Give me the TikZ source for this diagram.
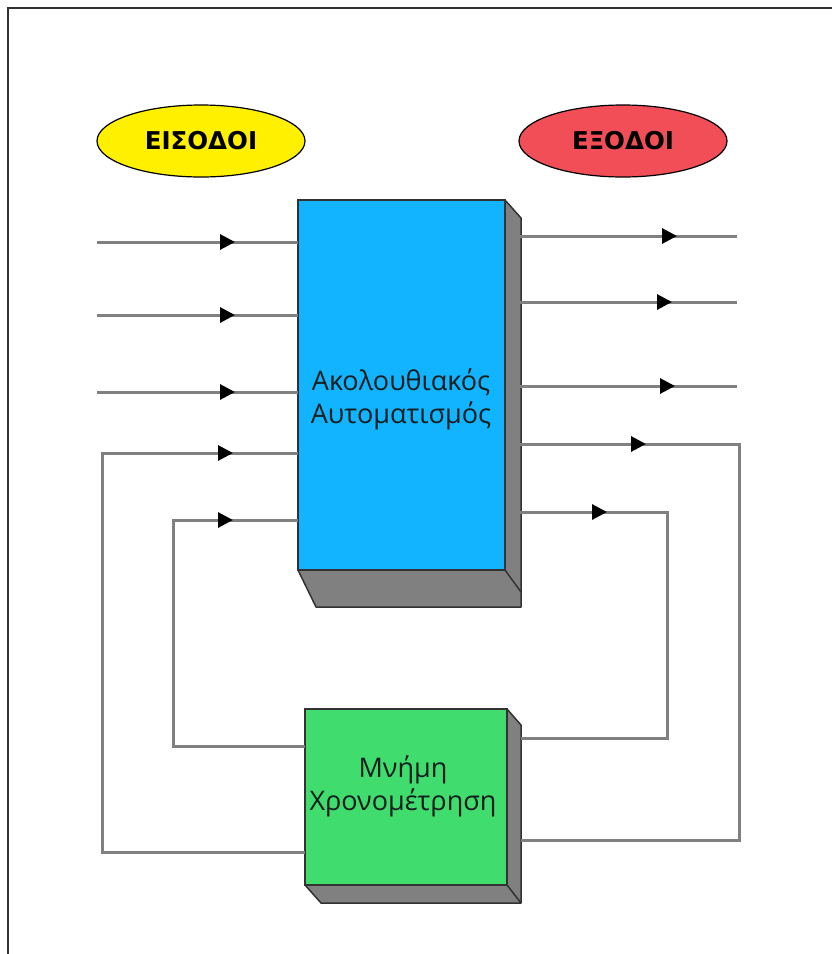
\documentclass[tikz,border=0pt]{standalone}
\usepackage{fontspec}
\setmainfont{Open Sans}
\newfontfamily\labelfont{DejaVu Sans}
\usetikzlibrary{shapes.geometric,arrows.meta,decorations.markings}

\definecolor{autoblue}{RGB}{18,180,255}
\definecolor{memgreen}{RGB}{64,220,110}
\definecolor{inyellow}{RGB}{255,240,0}
\definecolor{outred}{RGB}{242,78,88}
\definecolor{wiregray}{RGB}{128,128,128}
\definecolor{shadegray}{RGB}{128,128,128}
\definecolor{edgedark}{RGB}{50,50,50}
\definecolor{textdark}{RGB}{20,30,30}

\tikzset{
  block/.style={draw=edgedark, line width=2pt, rectangle, inner sep=0pt, outer sep=0pt},
  shade/.style={fill=shadegray, draw=edgedark, line width=1.5pt, line join=round},
  tag/.style={ellipse, draw=black, line width=1.2pt, minimum width=208pt, minimum height=72pt,
              inner sep=0pt, font=\labelfont\bfseries\fontsize{24.5}{28}\selectfont},
  wire/.style={draw=wiregray, line width=3pt},
  arrowat/.style={decoration={markings, mark=at position #1 with
                    {\arrow{Triangle[length=15pt,width=15pt,color=black]}}},
                  postaction={decorate}},
  blocktext/.style={align=center, font=\fontsize{27}{33}\selectfont, text=textdark}
}

\begin{document}
\begin{tikzpicture}[x=1pt, y=-1pt]
  \useasboundingbox (0,0) rectangle (832,954);
  \fill[white] (0,0) rectangle (832,954);

  % outer frame (top and left edges)
  \draw[edgedark, line width=2.5pt] (8,954) -- (8,8) -- (832,8);

  % labels
  \node[tag, fill=inyellow] (inputs) at (201,141) {ΕΙΣΟΔΟΙ};
  \node[tag, fill=outred] (outputs) at (623,141) {ΕΞΟΔΟΙ};

  % sequential control block with its raised side and bottom faces
  \node[block, fill=autoblue, minimum width=207pt, minimum height=370pt] (auto) at (401.5,385) {};
  \path[shade]
    (auto.north east) -- ++(16,18) -- ++(0,389) -- ++(-205,0) -- (auto.south west) -- (auto.south east) -- cycle;
  \draw[edgedark, line width=1.5pt] (auto.south east) -- ++(16,22);
  \node[block, fill=autoblue, minimum width=207pt, minimum height=370pt] at (auto.center) {};
  \node[blocktext] (autolabel) at (401,399) {Ακολουθιακός\\Αυτοματισμός};

  % memory / timing block
  \node[block, fill=memgreen, minimum width=202pt, minimum height=176pt] (mem) at (406,797) {};
  \path[shade]
    (mem.north east) -- ++(14,16) -- ++(0,178) -- ++(-200,0) -- (mem.south west) -- (mem.south east) -- cycle;
  \draw[edgedark, line width=1.5pt] (mem.south east) -- ++(14,18);
  \node[block, fill=memgreen, minimum width=202pt, minimum height=176pt] at (mem.center) {};
  \node[blocktext] (memlabel) at (403,786) {Μνήμη\\Χρονομέτρηση};

  % free wire ends
  \coordinate (i1) at (97,242);
  \coordinate (i2) at (97,315);
  \coordinate (i3) at (97,392);
  \coordinate (o1) at (737,236);
  \coordinate (o2) at (737,302);
  \coordinate (o3) at (737,386);
  \coordinate (autoright) at (520,0);
  \coordinate (memright) at (521,0);

  % inputs
  \draw[wire, arrowat=138pt] (i1) -- (i1 -| auto.west);
  \draw[wire, arrowat=138pt] (i2) -- (i2 -| auto.west);
  \draw[wire, arrowat=138pt] (i3) -- (i3 -| auto.west);

  % outputs
  \draw[wire, arrowat=157pt] (autoright |- o1) -- (o1);
  \draw[wire, arrowat=152pt] (autoright |- o2) -- (o2);
  \draw[wire, arrowat=155pt] (autoright |- o3) -- (o3);

  % feedback: block outputs into memory
  \draw[wire, arrowat=126pt] (520,444) -- (739,444) -- (739,840) -- (memright |- 0,840);
  \draw[wire, arrowat=87pt]  (520,512) -- (667,512) -- (667,738) -- (memright |- 0,738);

  % memory outputs back into block inputs
  \draw[wire, arrowat=733pt] (mem.west |- 0,852) -- (102,852) -- (102,453) -- (auto.west |- 0,453);
  \draw[wire, arrowat=418pt] (mem.west |- 0,746) -- (173,746) -- (173,520) -- (auto.west |- 0,520);
\end{tikzpicture}
\end{document}
